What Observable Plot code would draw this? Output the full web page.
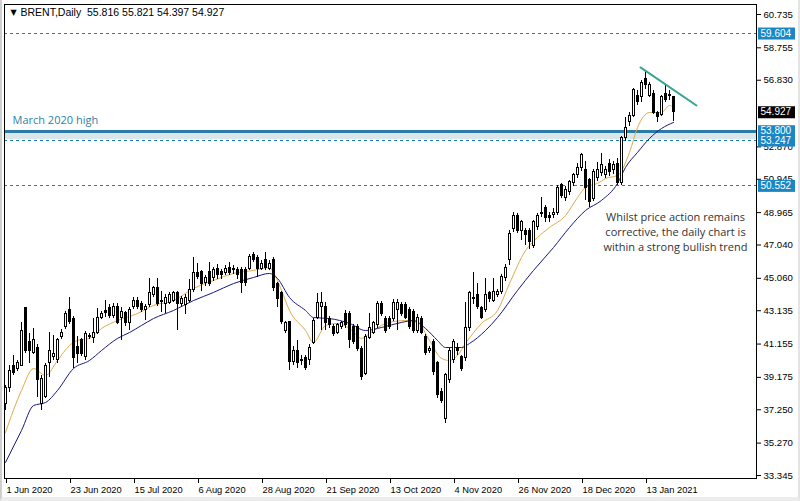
<!DOCTYPE html>
<html><head><meta charset="utf-8">
<script src="https://cdn.jsdelivr.net/npm/d3@7"></script>
<script src="https://cdn.jsdelivr.net/npm/@observablehq/plot@0.6"></script>
<style>
html,body{margin:0;padding:0;background:#fff;}
#chart{position:relative;width:800px;height:501px;overflow:hidden;}
#edge{position:absolute;left:0;top:0;width:796px;height:497px;border-left:2px solid #cfcfcf;border-right:2px solid #e4e4e4;border-bottom:4px solid #ececec;box-sizing:content-box;pointer-events:none;}
</style></head><body><div id="chart"><div id="edge"></div></div>
<script>
// ---- OHLC, one candle per trading day (index 0 = 1 Jun 2020) ----
const opens = [37.62,38.57,39.88,39.70,39.88,43.27,41.25,40.65,40.95,37.62,37.98,40.00,40.40,40.18,41.55,42.14,43.15,42.67,41.00,41.37,40.36,41.60,41.49,41.84,42.73,43.10,43.27,42.85,43.33,42.73,43.00,42.38,43.33,43.74,
43.56,43.15,43.45,44.04,44.46,43.70,43.56,43.62,43.74,44.16,43.56,43.45,43.74,44.34,45.35,45.41,44.81,45.41,45.05,45.64,45.41,45.35,45.70,45.55,45.53,45.53,45.53,45.64,46.42,46.24,45.64,46.12,45.64,46.12,44.75,
44.16,41.96,42.44,40.06,40.77,40.20,40.30,40.18,41.19,42.73,43.33,43.33,42.67,42.14,41.84,42.14,42.97,42.97,42.14,42.14,40.89,39.40,41.49,41.84,42.26,43.56,42.67,42.67,42.67,43.15,43.45,43.45,43.15,43.03,41.96,42.67,41.55,40.77,41.25,40.00,38.28,36.73,39.00,
40.18,40.95,40.36,40.30,42.08,43.86,44.04,43.27,43.15,44.16,43.74,44.04,44.22,45.05,46.12,48.02,48.79,47.90,47.90,47.90,47.01,48.08,48.90,49.21,48.79,48.85,48.97,50.58,49.86,50.16,50.70,51.17,51.59,51.47,50.88,49.80,51.00,51.29,51.17,51.88,51.47,51.88,50.70,53.37,54.32,54.73,55.92,55.81,56.93,55.92,56.04,54.91,54.79,56.04,55.87,55.816];
const highs = [38.70,39.88,40.48,40.20,42.44,43.33,41.78,42.08,41.10,39.30,40.00,41.84,41.66,41.50,42.00,43.10,43.92,42.80,41.60,41.50,41.90,41.80,42.67,43.27,43.10,43.74,43.50,43.56,43.56,43.30,43.10,43.30,43.92,43.90,
43.70,43.50,45.05,44.60,45.05,44.30,44.10,44.20,44.30,44.30,44.00,44.10,45.00,46.30,45.94,45.50,45.20,46.00,45.70,45.90,45.60,45.80,46.00,45.80,45.70,45.70,45.70,46.50,46.60,46.40,46.10,46.60,46.10,46.30,44.80,
44.30,42.50,42.50,41.00,41.37,40.50,40.50,41.10,42.70,44.16,44.22,43.62,42.80,42.30,42.40,42.50,43.15,43.10,42.30,42.30,41.00,41.70,42.97,42.50,43.70,43.70,42.80,42.80,43.80,43.80,43.60,43.60,43.30,43.20,42.90,42.80,41.70,41.00,41.40,40.10,38.50,39.40,40.90,
41.40,41.20,40.50,43.62,44.30,45.41,44.75,43.40,45.05,44.30,45.05,44.40,45.30,45.90,47.90,49.00,48.90,48.50,48.00,48.00,48.50,48.90,49.86,49.40,49.00,49.20,50.60,50.70,50.50,50.90,51.30,51.88,52.48,52.00,51.00,51.50,51.94,52.48,51.70,52.10,52.00,52.20,53.50,54.60,54.90,56.35,56.20,56.80,57.42,56.70,56.20,55.00,55.90,56.52,56.22,55.821];
const lows = [37.21,38.30,39.30,39.50,39.80,40.60,40.00,40.55,37.98,37.21,37.90,39.17,40.20,40.00,41.40,42.00,42.30,39.70,40.00,40.40,40.20,41.40,41.20,41.70,42.60,42.73,42.70,42.70,42.30,41.37,42.20,41.96,43.20,43.20,
43.00,42.55,43.30,43.90,43.40,43.00,42.97,43.50,43.60,41.96,43.40,42.90,43.60,44.20,45.00,44.30,44.60,44.60,44.90,45.00,45.00,45.20,45.20,45.30,45.00,44.16,44.60,45.50,46.00,45.11,45.50,45.50,45.50,44.30,43.33,
42.30,41.80,39.58,39.90,39.70,39.90,39.60,39.88,41.10,42.60,41.96,41.96,42.10,41.60,41.70,42.00,42.10,40.89,41.10,40.70,38.99,39.30,41.40,41.70,42.10,42.80,41.80,42.00,42.50,41.96,42.80,42.60,42.00,41.80,41.80,41.70,40.50,40.60,39.30,37.90,37.60,36.43,38.80,
40.00,40.50,39.50,40.10,41.90,43.50,43.20,42.60,43.00,43.60,43.60,43.90,44.10,44.90,45.80,47.80,47.70,47.31,47.01,46.80,46.83,47.90,48.70,48.40,48.40,48.60,48.80,49.80,49.60,50.00,50.50,51.00,51.40,49.70,49.27,49.60,50.80,51.10,51.00,51.10,51.20,50.58,50.60,53.20,54.10,54.60,55.30,55.50,56.30,55.80,54.80,54.32,54.70,55.50,55.60,54.397];
const closes = [38.57,39.58,39.41,40.00,41.96,40.77,40.77,41.37,38.99,39.10,39.88,40.77,40.55,41.37,41.84,42.97,42.44,40.30,40.59,40.59,41.78,41.66,41.84,42.73,42.97,43.00,42.85,43.33,42.38,43.03,42.38,43.15,43.74,43.33,
43.15,43.33,44.16,44.46,43.56,43.65,43.92,44.04,44.16,43.56,43.86,43.92,44.34,45.35,45.11,44.75,45.05,44.75,45.53,45.23,45.23,45.64,45.35,45.64,45.23,44.81,44.81,46.30,46.12,45.64,45.94,45.70,45.94,44.46,43.86,
42.44,42.38,40.06,40.77,40.00,40.15,39.76,40.95,42.55,43.62,43.62,42.38,42.26,41.78,42.26,42.38,42.26,41.37,41.25,40.89,39.17,41.55,42.08,42.38,43.56,42.97,41.96,42.14,43.62,43.62,42.97,42.73,42.14,41.96,42.73,41.84,40.65,40.89,39.47,38.10,37.80,39.29,40.77,
41.25,40.77,39.70,42.08,44.16,43.92,43.33,42.73,44.04,43.86,44.22,44.22,45.11,45.70,47.72,48.79,47.90,48.38,47.61,47.19,48.38,48.79,48.97,48.62,48.67,48.97,50.40,49.98,50.28,50.76,51.17,51.59,52.36,50.40,49.57,51.35,51.47,51.77,51.47,51.35,51.77,50.70,53.37,54.02,54.73,56.22,55.51,56.64,56.52,56.52,54.91,54.62,55.81,55.63,55.93,54.927];

// ---- moving averages (candle index, price) ----
const fastMaBars = [0,4,7,10,13,16,18,21,24,28,33,37,42,47,52,57,62,66,67,68,69,71,75,77,80,83,86,89,91,95,100,103,106,109,111,113,115,119,123,126,130,133,136,140,143,145,148,150,153,156,158,161,164,166,167];
const fastMaValues = [35.90,38.40,39.70,39.29,40.18,41.07,41.37,41.49,42.08,42.55,42.97,43.45,43.74,44.46,44.93,45.35,45.53,45.70,45.41,44.93,44.34,43.15,41.96,41.25,42.26,42.38,42.08,41.49,41.78,42.38,42.55,42.44,41.37,40.30,40.18,40.48,41.19,42.38,43.15,44.75,46.71,47.49,48.08,48.79,49.86,50.46,50.70,50.99,51.17,52.54,54.02,54.91,54.91,55.33,55.21];
const slowMaBars = [0,4,7,10,13,17,21,24,28,31,34,37,42,47,52,57,62,66,68,71,75,77,81,86,90,94,99,102,105,108,110,114,116,120,123,128,132,137,141,145,149,153,155,158,161,164,167];
const slowMaValues = [34.12,36.02,37.50,37.68,38.40,39.70,40.18,40.77,41.49,41.84,42.26,42.67,43.15,43.74,44.22,44.75,45.11,45.35,45.05,43.92,43.15,42.73,42.67,42.38,41.96,42.14,42.44,42.55,42.08,41.37,40.95,40.95,41.19,41.96,42.73,44.34,45.53,46.89,48.08,49.09,49.69,50.70,51.65,52.54,53.37,53.96,54.32];

// ---- horizontal levels and labels ----
const dashedLevels = [59.604, 53.247, 50.552];
const marchHigh = 53.800;
const bandLevels = [53.30, 53.800];
const priceLabelValues = [59.604, 54.927, 53.800, 53.247, 50.552];
const priceLabelColors = ["#1a86c4", "#000000", "#1a86c4", "#1a86c4", "#1a86c4"];

// ---- descending trend line (candle index, price) ----
const trendBars = [158.75, 172.75];
const trendValues = [57.59, 55.33];

// ---- axes ----
const xTickBars = [0,16,32,48,64,80,96,112,128,144,160];
const xTickLabels = ["1 Jun 2020","23 Jun 2020","15 Jul 2020","6 Aug 2020","28 Aug 2020","21 Sep 2020","13 Oct 2020","4 Nov 2020","26 Nov 2020","18 Dec 2020","13 Jan 2021"];
const yTicks = [60.735,58.755,56.830,52.870,50.945,48.965,47.040,45.060,43.135,41.155,39.175,37.250,35.270,33.345];

// ---- texts ----
const headerText = "BRENT,Daily\u00a0\u00a055.816 55.821 54.397 54.927";
const noteText = "Whilst price action remains\ncorrective, the daily chart is\nwithin a strong bullish trend";
const notePos = {bar: 167.5, price: 47.84};
const marchLabel = {text: "March 2020 high", price: 54.44};

const candles = opens.map((o, i) => ({i, o, h: highs[i], l: lows[i], c: closes[i]}));
const fastMa = fastMaBars.map((b, k) => ({b, v: fastMaValues[k]}));
const slowMa = slowMaBars.map((b, k) => ({b, v: slowMaValues[k]}));
const trend = trendBars.map((b, k) => ({b, v: trendValues[k]}));

const FONT = "'Liberation Sans', Arial, sans-serif";

const chart = Plot.plot({
  width: 800, height: 501,
  marginTop: 4, marginBottom: 23, marginLeft: 4, marginRight: 44,
  style: {fontFamily: FONT, fontSize: "10px", background: "#fff", color: "#000", overflow: "visible"},
  x: {type: "linear", domain: [-0.25, 187.75], axis: null},
  y: {type: "linear", domain: [33.167, 61.329], axis: null},
  marks: [
    Plot.rect([bandLevels], {y1: d => d[0], y2: d => d[1], fill: "#dbe6eb"}),
    Plot.ruleY(dashedLevels, {stroke: "#1a7db3", strokeDasharray: "3,3", strokeWidth: 1, shapeRendering: "crispEdges"}),
    Plot.ruleY([marchHigh], {stroke: "#2a7ca6", strokeWidth: 3, shapeRendering: "crispEdges"}),
    Plot.line(fastMa, {x: "b", y: "v", stroke: "#e0a94a", strokeWidth: 1, curve: "monotone-x"}),
    Plot.line(slowMa, {x: "b", y: "v", stroke: "#17177f", strokeWidth: 1, curve: "monotone-x"}),
    Plot.ruleX(candles, {x: "i", y1: "l", y2: "h", stroke: "#000", strokeWidth: 1, shapeRendering: "crispEdges"}),
    Plot.rect(candles, {x1: d => d.i - 0.25, x2: d => d.i + 0.25, y1: "o", y2: "c",
      fill: d => d.c >= d.o ? "#fff" : "#000", stroke: "#000", strokeWidth: 1, shapeRendering: "crispEdges"}),
    Plot.line(trend, {x: "b", y: "v", stroke: "#34a594", strokeWidth: 2}),
    Plot.text([noteText], {x: () => notePos.bar, y: () => notePos.price, text: d => d, textAnchor: "middle",
      lineHeight: 1.36, fontSize: 11, fill: "#333", fontFamily: "'Open Sans', sans-serif"}),
    Plot.text([marchLabel], {y: "price", text: "text", frameAnchor: "left", dx: 8, textAnchor: "start",
      fontSize: 11, fill: "#2f7fa6", fontFamily: "'Open Sans', sans-serif"}),
    Plot.text(["\u25BC"], {frameAnchor: "top-left", dx: 6, dy: 8, lineAnchor: "middle", textAnchor: "start", fontSize: 8, fill: "#000", fontFamily: "'DejaVu Sans', sans-serif"}),
    Plot.text([headerText], {frameAnchor: "top-left", dx: 16, dy: 8, lineAnchor: "middle", textAnchor: "start", fontSize: 10.5, fill: "#000"}),
    Plot.axisX({ticks: xTickBars, tickFormat: d => xTickLabels[xTickBars.indexOf(d)], anchor: "bottom",
      textAnchor: "start", tickSize: 5, tickPadding: 3, dx: 1, fontSize: 9.3}),
    Plot.axisY({anchor: "right", ticks: yTicks, tickFormat: d => d.toFixed(3), tickSize: 4, tickPadding: 3, fontSize: 9.6}),
    Plot.frame({stroke: "#000", shapeRendering: "crispEdges"}),
    Plot.text(priceLabelValues, {
      y: d => d, text: d => d.toFixed(3), frameAnchor: "right", textAnchor: "start", dx: 4,
      fill: "#fff", fontSize: 10, fontWeight: "normal",
      render(index, scales, values, dimensions, context, next) {
        const g = next(index, scales, values, dimensions, context);
        const dx = 4;
        for (const i of index) {
          const r = document.createElementNS("http://www.w3.org/2000/svg", "rect");
          r.setAttribute("x", -dx + 1.5);
          r.setAttribute("y", values.y[i] - 6);
          r.setAttribute("width", 37);
          r.setAttribute("height", 12);
          r.setAttribute("fill", priceLabelColors[i]);
          r.setAttribute("transform", `translate(${dimensions.width - dimensions.marginRight},0)`);
          g.insertBefore(r, g.firstChild);
        }
        return g;
      }
    })
  ]
});
document.getElementById("chart").insertBefore(chart, document.getElementById("edge"));
</script></body></html>
